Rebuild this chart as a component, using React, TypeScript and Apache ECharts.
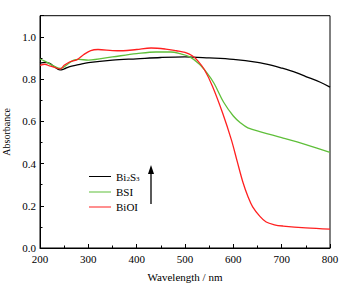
import React, { useEffect, useRef } from "react";
import * as echarts from "echarts";

const bi2s3X = [200, 210, 220, 230, 241, 250, 260, 280, 300, 350, 400, 450, 500, 550, 600, 650, 680, 700, 730, 750, 780, 800];
const bi2s3Y = [0.875, 0.879, 0.874, 0.858, 0.843, 0.848, 0.858, 0.868, 0.878, 0.89, 0.896, 0.902, 0.905, 0.9, 0.893, 0.879, 0.865, 0.852, 0.83, 0.812, 0.785, 0.762];

const bsiX = [200, 210, 220, 230, 242, 250, 260, 270, 280, 300, 350, 400, 440, 470, 490, 510, 530, 545, 560, 580, 600, 615, 630, 660, 700, 750, 800];
const bsiY = [0.895, 0.885, 0.872, 0.86, 0.85, 0.858, 0.875, 0.89, 0.893, 0.89, 0.905, 0.92, 0.928, 0.928, 0.92, 0.905, 0.87, 0.83, 0.78, 0.69, 0.625, 0.592, 0.569, 0.548, 0.523, 0.49, 0.453];

const bioiX = [200, 210, 220, 230, 242, 250, 262, 276, 290, 305, 320, 350, 372, 400, 430, 460, 482, 500, 515, 527, 540, 557, 578, 596, 608, 620, 630, 640, 655, 668, 685, 703, 750, 800];
const bioiY = [0.865, 0.87, 0.862, 0.855, 0.848, 0.865, 0.882, 0.891, 0.915, 0.935, 0.94, 0.935, 0.934, 0.94, 0.947, 0.942, 0.934, 0.926, 0.91, 0.885, 0.845, 0.765, 0.638, 0.512, 0.41, 0.31, 0.245, 0.195, 0.15, 0.123, 0.11, 0.104, 0.095, 0.089];

const seriesNames = ["Bi2S3", "BSI", "BiOI"];
const colors = ["#000000", "#5fbf3a", "#ff2020"];

const zip = (xs: number[], ys: number[]) => xs.map((x, i) => [x, ys[i]]);

export default function App() {
  const ref = useRef<HTMLDivElement>(null);
  useEffect(() => {
    if (!ref.current) return;
    const chart = echarts.init(ref.current, undefined, { renderer: "svg" });
    const font = "'Liberation Serif', 'DejaVu Serif', serif";
    const datas = [zip(bi2s3X, bi2s3Y), zip(bsiX, bsiY), zip(bioiX, bioiY)];
    const lineIcon = "path://M0,0H0.01V0.01H0Z M0,4.4H24V5.6H0Z M23.99,9.99H24V10H23.99Z";
    chart.setOption({
      animation: false,
      textStyle: { fontFamily: font, color: "#000" },
      grid: { left: 40, right: 22, top: 15.7, bottom: 40, outerBoundsMode: "none", containLabel: false, show: true, borderColor: "#000", borderWidth: 1, backgroundColor: "transparent" },
      legend: {
        orient: "vertical",
        left: 84,
        top: 166,
        itemWidth: 22,
        itemHeight: 10,
        itemGap: 4,
        icon: lineIcon,
        data: seriesNames.map((n, i) => ({ name: n, icon: lineIcon, itemStyle: { color: colors[i] } })),
        textStyle: {
          fontFamily: font, fontSize: 11, color: "#000",
          rich: {
            a: { fontFamily: font, fontSize: 11, color: "#000" },
            s: { fontFamily: font, fontSize: 7, color: "#000", verticalAlign: "bottom", padding: [5, 0, 0, 0] },
          },
        },
        formatter: (n: string) => (n === "Bi2S3" ? "{a|Bi}{s|2}{a|S}{s|3}" : n),
      },
      xAxis: {
        type: "value",
        min: 200,
        max: 800,
        interval: 100,
        name: "Wavelength / nm",
        nameLocation: "middle",
        nameGap: 23,
        nameTextStyle: { fontFamily: font, fontSize: 11, color: "#000" },
        axisLine: { lineStyle: { color: "#000", width: 1 } },
        axisTick: { inside: true, length: 4, lineStyle: { color: "#000" } },
        minorTick: { show: true, splitNumber: 2, length: 2.5, lineStyle: { color: "#000" } },
        axisLabel: { fontFamily: font, fontSize: 11, color: "#000", margin: 5 },
        splitLine: { show: false },
      },
      yAxis: {
        type: "value",
        min: 0,
        max: 1.1,
        interval: 0.2,
        name: "Absorbance",
        nameLocation: "middle",
        nameGap: 28,
        nameTextStyle: { fontFamily: font, fontSize: 10, color: "#000" },
        axisLine: { show: true, lineStyle: { color: "#000", width: 1 } },
        axisTick: { inside: true, length: 4, lineStyle: { color: "#000" } },
        minorTick: { show: true, splitNumber: 2, length: 2.5, lineStyle: { color: "#000" } },
        axisLabel: { fontFamily: font, fontSize: 11, color: "#000", margin: 4, formatter: (v: number) => v.toFixed(1), showMaxLabel: false },
        splitLine: { show: false },
      },
      series: seriesNames.map((name, i) => ({
        name,
        type: "line",
        data: datas[i],
        smooth: 0.35,
        symbol: "none",
        color: colors[i],
        lineStyle: { width: 1.3, color: colors[i] },
      })),
      graphic: [
        { type: "line", shape: { x1: 151, y1: 204, x2: 151, y2: 172 }, style: { stroke: "#000", lineWidth: 1.3 } },
        { type: "polygon", shape: { points: [[151, 165], [148, 174], [154, 174]] }, style: { fill: "#000" } },
      ],
    });
    return () => chart.dispose();
  }, []);
  return <div ref={ref} style={{ width: 352, height: 288, position: "absolute", left: 0, top: 0 }} />;
}
